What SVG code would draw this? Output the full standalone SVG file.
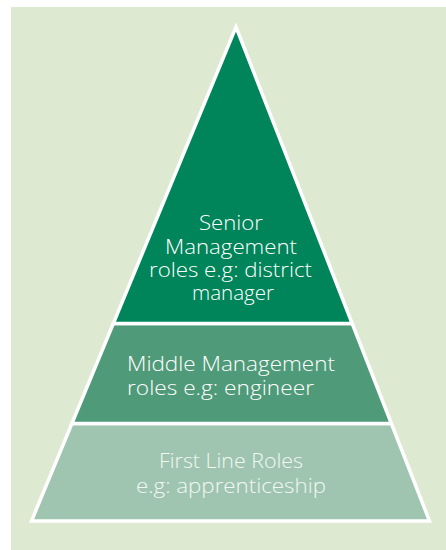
<svg xmlns="http://www.w3.org/2000/svg" width="446" height="550" viewBox="0 0 446 550">
  <style>
    .band { stroke: #ffffff; stroke-width: 3.5; stroke-linejoin: miter; stroke-miterlimit: 10; }
    .lbl { font-family: "Open Sans", "DejaVu Sans", sans-serif; font-weight: 300; font-size: 21px; fill: #ffffff; }
    .mid { text-anchor: middle; }
    .light { fill: #f2f7f3; }
  </style>
  <!-- backdrop panel -->
  <rect x="0" y="0" width="446" height="550" fill="#ffffff"/>
  <rect x="11" y="7" width="435" height="543" fill="#dde9d1"/>

  <!-- bottom tier -->
  <g id="first-line">
    <polygon class="band" points="71.9,423.5 391.4,423.5 429.5,521 31.5,521" fill="#9fc5b0"/>
    <text class="lbl mid light" x="231" y="468" textLength="144" lengthAdjust="spacingAndGlyphs">First Line Roles</text>
    <text class="lbl mid light" x="231" y="493" textLength="190" lengthAdjust="spacingAndGlyphs">e.g: apprenticeship</text>
  </g>

  <!-- middle tier -->
  <g id="middle-management">
    <polygon class="band" points="113.3,323.5 352.2,323.5 391.4,423.5 71.9,423.5" fill="#4f9a78"/>
    <text class="lbl" x="127" y="371" textLength="208" lengthAdjust="spacingAndGlyphs">Middle Management</text>
    <text class="lbl" x="127" y="395" textLength="187" lengthAdjust="spacingAndGlyphs">roles e.g: engineer</text>
  </g>

  <!-- top tier -->
  <g id="senior-management">
    <polygon class="band" points="236,27 352.2,323.5 113.3,323.5" fill="#00845a"/>
    <text class="lbl mid" x="231" y="230" textLength="64" lengthAdjust="spacingAndGlyphs">Senior</text>
    <text class="lbl mid" x="231" y="254" textLength="132" lengthAdjust="spacingAndGlyphs">Management</text>
    <text class="lbl mid" x="230.5" y="277" textLength="163" lengthAdjust="spacingAndGlyphs">roles e.g: district</text>
    <text class="lbl mid" x="233" y="300" textLength="82" lengthAdjust="spacingAndGlyphs">manager</text>
  </g>

  <g id="connectors"/>
</svg>
